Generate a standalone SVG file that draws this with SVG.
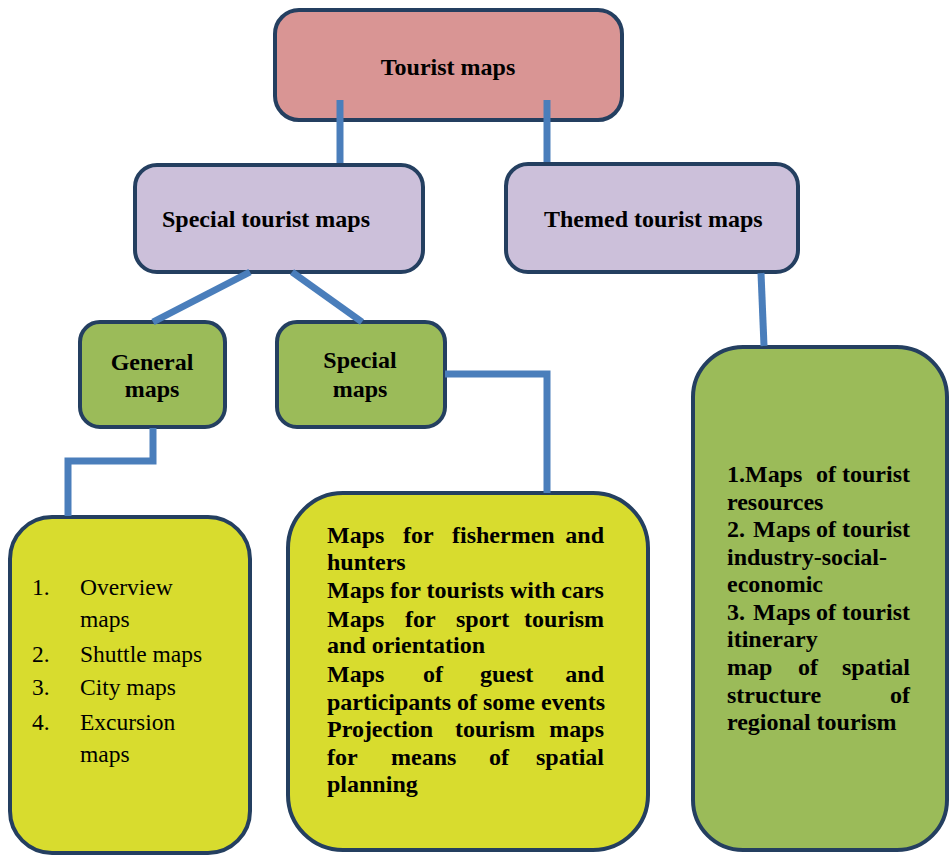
<svg xmlns="http://www.w3.org/2000/svg" width="950" height="855" viewBox="0 0 950 855">
<style>
.box{stroke:#243f60;stroke-width:4}
.pink{fill:#d99594}
.purple{fill:#ccc0da}
.green{fill:#9bbb59}
.yellow{fill:#d8dc2e}
text{font-family:"Liberation Serif","Times New Roman",serif;fill:#000}
.b{font-weight:bold;font-size:24px}
.r{font-size:23.5px}
.conn{stroke:#4a7ebb;stroke-width:7;fill:none}
</style>
<rect width="950" height="855" fill="#fff"/>
<g id="tourist-maps">
<rect class="box pink" x="275" y="10" width="347" height="110" rx="24"/>
<text class="b" x="448" y="75" text-anchor="middle">Tourist maps</text>
</g>
<g id="special-tourist-maps">
<rect class="box purple" x="135" y="165" width="288" height="107" rx="22"/>
<text class="b" x="162" y="227">Special tourist maps</text>
</g>
<g id="themed-tourist-maps">
<rect class="box purple" x="506" y="164" width="292" height="108" rx="22"/>
<text class="b" x="544" y="227">Themed tourist maps</text>
</g>
<g id="general-maps">
<rect class="box green" x="80" y="322" width="145" height="105" rx="20"/>
<text class="b" text-anchor="middle"><tspan x="152" y="370">General</tspan><tspan x="152" y="397">maps</tspan></text>
</g>
<g id="special-maps">
<rect class="box green" x="277" y="322" width="168" height="105" rx="20"/>
<text class="b" text-anchor="middle"><tspan x="360" y="368">Special</tspan><tspan x="360" y="397">maps</tspan></text>
</g>
<g id="general-list">
<rect class="box yellow" x="10" y="517" width="240" height="336" rx="42"/>
<text class="r">
<tspan x="32" y="595">1.</tspan><tspan x="80" y="595">Overview</tspan>
<tspan x="80" y="627">maps</tspan>
<tspan x="32" y="662">2.</tspan><tspan x="80" y="662">Shuttle maps</tspan>
<tspan x="32" y="695">3.</tspan><tspan x="80" y="695">City maps</tspan>
<tspan x="32" y="730">4.</tspan><tspan x="80" y="730">Excursion</tspan>
<tspan x="80" y="762">maps</tspan>
</text>
</g>
<g id="special-list">
<rect class="box yellow" x="288" y="493" width="360" height="357" rx="55"/>
<text class="b">
<tspan x="327" y="543">Maps</tspan><tspan x="403" y="543">for</tspan><tspan x="452" y="543">fishermen</tspan><tspan x="610" y="543" text-anchor="end">and</tspan>
<tspan x="327" y="570">hunters</tspan>
<tspan x="327" y="598">Maps for tourists with cars</tspan>
<tspan x="327" y="627">Maps</tspan><tspan x="405" y="627">for</tspan><tspan x="456" y="627">sport</tspan><tspan x="610" y="627" text-anchor="end">tourism</tspan>
<tspan x="327" y="653">and orientation</tspan>
<tspan x="327" y="682">Maps</tspan><tspan x="423" y="682">of</tspan><tspan x="480" y="682">guest</tspan><tspan x="610" y="682" text-anchor="end">and</tspan>
<tspan x="327" y="710">participants of some events</tspan>
<tspan x="327" y="737">Projection</tspan><tspan x="455" y="737">tourism</tspan><tspan x="610" y="737" text-anchor="end">maps</tspan>
<tspan x="327" y="765">for</tspan><tspan x="391" y="765">means</tspan><tspan x="489" y="765">of</tspan><tspan x="610" y="765" text-anchor="end">spatial</tspan>
<tspan x="327" y="792">planning</tspan>
</text>
</g>
<g id="themed-list">
<rect class="box green" x="693" y="347" width="254" height="503" rx="50"/>
<text class="b">
<tspan x="727" y="482">1.Maps</tspan><tspan x="816" y="482">of</tspan><tspan x="916" y="482" text-anchor="end">tourist</tspan>
<tspan x="727" y="510">resources</tspan>
<tspan x="727" y="537">2.</tspan><tspan x="753" y="537">Maps</tspan><tspan x="816" y="537">of</tspan><tspan x="916" y="537" text-anchor="end">tourist</tspan>
<tspan x="727" y="565">industry-social-</tspan>
<tspan x="727" y="592">economic</tspan>
<tspan x="727" y="620">3.</tspan><tspan x="753" y="620">Maps</tspan><tspan x="816" y="620">of</tspan><tspan x="916" y="620" text-anchor="end">tourist</tspan>
<tspan x="727" y="647">itinerary</tspan>
<tspan x="727" y="675">map</tspan><tspan x="798" y="675">of</tspan><tspan x="916" y="675" text-anchor="end">spatial</tspan>
<tspan x="727" y="703">structure</tspan><tspan x="916" y="703" text-anchor="end">of</tspan>
<tspan x="727" y="730">regional tourism</tspan>
</text>
</g>
<g id="connectors">
<line class="conn" x1="340" y1="100" x2="340" y2="163"/>
<line class="conn" x1="547" y1="100" x2="547" y2="162"/>
<line class="conn" x1="250" y1="272" x2="153" y2="322"/>
<line class="conn" x1="292" y1="272" x2="362" y2="322"/>
<path class="conn" d="M445 374 H547 V493"/>
<path class="conn" d="M153 428 V461 H68 V516"/>
<line class="conn" x1="761" y1="273" x2="764" y2="346"/>
</g>
</svg>
